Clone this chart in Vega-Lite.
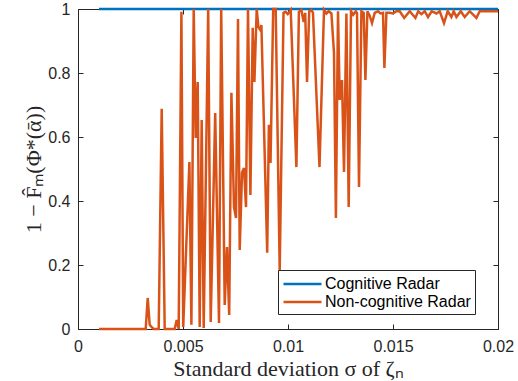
{
  "$schema": "https://vega.github.io/schema/vega-lite/v6.json",
  "width": 420,
  "height": 320,
  "autosize": {"type": "none"},
  "padding": {"left": 78, "top": 9, "right": 20, "bottom": 52},
  "background": "white",
  "config": {
    "view": {"stroke": "#262626", "strokeWidth": 1},
    "axis": {
      "domainColor": "#262626",
      "domainWidth": 1,
      "tickColor": "#262626",
      "tickWidth": 1,
      "tickSize": -5,
      "labelFlush": false,
      "labelColor": "#262626",
      "labelFont": "Liberation Sans",
      "labelFontSize": 16,
      "titleColor": "#262626",
      "titleFont": "Liberation Serif",
      "titleFontWeight": "normal",
      "titleFontSize": 22,
      "grid": false
    },
    "legend": {
      "orient": "none",
      "legendX": 200,
      "legendY": 261,
      "padding": 4,
      "strokeColor": "#262626",
      "fillColor": "white",
      "symbolType": "M-1,0H3.47",
      "symbolSize": 289,
      "symbolStrokeWidth": 2.5,
      "labelOffset": 23,
      "labelFont": "Liberation Sans",
      "labelFontSize": 16,
      "labelColor": "#000000",
      "labelExpr": "datum.label + '       '",
      "rowPadding": 0,
      "title": null
    }
  },
  "datasets": {
    "cog": [
      {"sigma": 0.001, "pfa": 1, "series": "Cognitive Radar"},
      {"sigma": 0.02, "pfa": 1, "series": "Cognitive Radar"}
    ],
    "non": [
      {"sigma": 0.001, "pfa": 0, "series": "Non-cognitive Radar"},
      {"sigma": 0.003224, "pfa": 0, "series": "Non-cognitive Radar"},
      {"sigma": 0.003319, "pfa": 0.097, "series": "Non-cognitive Radar"},
      {"sigma": 0.003414, "pfa": 0.013, "series": "Non-cognitive Radar"},
      {"sigma": 0.00351, "pfa": 0.006, "series": "Non-cognitive Radar"},
      {"sigma": 0.003605, "pfa": 0, "series": "Non-cognitive Radar"},
      {"sigma": 0.003843, "pfa": 0, "series": "Non-cognitive Radar"},
      {"sigma": 0.003986, "pfa": 0.688, "series": "Non-cognitive Radar"},
      {"sigma": 0.004129, "pfa": 0, "series": "Non-cognitive Radar"},
      {"sigma": 0.004605, "pfa": 0, "series": "Non-cognitive Radar"},
      {"sigma": 0.0047, "pfa": 0.028, "series": "Non-cognitive Radar"},
      {"sigma": 0.004795, "pfa": 0, "series": "Non-cognitive Radar"},
      {"sigma": 0.004924, "pfa": 0.991, "series": "Non-cognitive Radar"},
      {"sigma": 0.00501, "pfa": 0.006, "series": "Non-cognitive Radar"},
      {"sigma": 0.005305, "pfa": 0.522, "series": "Non-cognitive Radar"},
      {"sigma": 0.0054, "pfa": 0.013, "series": "Non-cognitive Radar"},
      {"sigma": 0.00551, "pfa": 1, "series": "Non-cognitive Radar"},
      {"sigma": 0.005605, "pfa": 0.597, "series": "Non-cognitive Radar"},
      {"sigma": 0.0057, "pfa": 0.772, "series": "Non-cognitive Radar"},
      {"sigma": 0.005795, "pfa": 0.006, "series": "Non-cognitive Radar"},
      {"sigma": 0.00589, "pfa": 0.653, "series": "Non-cognitive Radar"},
      {"sigma": 0.005986, "pfa": 0.003, "series": "Non-cognitive Radar"},
      {"sigma": 0.0062, "pfa": 1, "series": "Non-cognitive Radar"},
      {"sigma": 0.006319, "pfa": 0.022, "series": "Non-cognitive Radar"},
      {"sigma": 0.006533, "pfa": 0.675, "series": "Non-cognitive Radar"},
      {"sigma": 0.006714, "pfa": 0.019, "series": "Non-cognitive Radar"},
      {"sigma": 0.006819, "pfa": 1, "series": "Non-cognitive Radar"},
      {"sigma": 0.006986, "pfa": 0.075, "series": "Non-cognitive Radar"},
      {"sigma": 0.007095, "pfa": 0.256, "series": "Non-cognitive Radar"},
      {"sigma": 0.0072, "pfa": 0.044, "series": "Non-cognitive Radar"},
      {"sigma": 0.007305, "pfa": 0.738, "series": "Non-cognitive Radar"},
      {"sigma": 0.007429, "pfa": 0.381, "series": "Non-cognitive Radar"},
      {"sigma": 0.007524, "pfa": 0.347, "series": "Non-cognitive Radar"},
      {"sigma": 0.007619, "pfa": 0.969, "series": "Non-cognitive Radar"},
      {"sigma": 0.0077, "pfa": 0.247, "series": "Non-cognitive Radar"},
      {"sigma": 0.00781, "pfa": 0.488, "series": "Non-cognitive Radar"},
      {"sigma": 0.007905, "pfa": 0.503, "series": "Non-cognitive Radar"},
      {"sigma": 0.008, "pfa": 0.381, "series": "Non-cognitive Radar"},
      {"sigma": 0.008095, "pfa": 1, "series": "Non-cognitive Radar"},
      {"sigma": 0.00821, "pfa": 0.419, "series": "Non-cognitive Radar"},
      {"sigma": 0.008319, "pfa": 0.941, "series": "Non-cognitive Radar"},
      {"sigma": 0.0084, "pfa": 0.772, "series": "Non-cognitive Radar"},
      {"sigma": 0.00851, "pfa": 1, "series": "Non-cognitive Radar"},
      {"sigma": 0.00859, "pfa": 0.944, "series": "Non-cognitive Radar"},
      {"sigma": 0.008686, "pfa": 0.934, "series": "Non-cognitive Radar"},
      {"sigma": 0.008733, "pfa": 0.95, "series": "Non-cognitive Radar"},
      {"sigma": 0.00901, "pfa": 0.238, "series": "Non-cognitive Radar"},
      {"sigma": 0.00909, "pfa": 0.638, "series": "Non-cognitive Radar"},
      {"sigma": 0.009167, "pfa": 0.519, "series": "Non-cognitive Radar"},
      {"sigma": 0.009295, "pfa": 1, "series": "Non-cognitive Radar"},
      {"sigma": 0.009414, "pfa": 1, "series": "Non-cognitive Radar"},
      {"sigma": 0.009605, "pfa": 0.184, "series": "Non-cognitive Radar"},
      {"sigma": 0.009786, "pfa": 0.988, "series": "Non-cognitive Radar"},
      {"sigma": 0.00989, "pfa": 0.991, "series": "Non-cognitive Radar"},
      {"sigma": 0.009986, "pfa": 0.984, "series": "Non-cognitive Radar"},
      {"sigma": 0.010129, "pfa": 0.997, "series": "Non-cognitive Radar"},
      {"sigma": 0.0104, "pfa": 0.506, "series": "Non-cognitive Radar"},
      {"sigma": 0.010519, "pfa": 0.991, "series": "Non-cognitive Radar"},
      {"sigma": 0.010638, "pfa": 0.997, "series": "Non-cognitive Radar"},
      {"sigma": 0.010748, "pfa": 0.959, "series": "Non-cognitive Radar"},
      {"sigma": 0.010819, "pfa": 0.988, "series": "Non-cognitive Radar"},
      {"sigma": 0.010905, "pfa": 0.772, "series": "Non-cognitive Radar"},
      {"sigma": 0.01101, "pfa": 0.993, "series": "Non-cognitive Radar"},
      {"sigma": 0.011114, "pfa": 0.997, "series": "Non-cognitive Radar"},
      {"sigma": 0.01119, "pfa": 0.988, "series": "Non-cognitive Radar"},
      {"sigma": 0.0115, "pfa": 0.506, "series": "Non-cognitive Radar"},
      {"sigma": 0.011714, "pfa": 0.997, "series": "Non-cognitive Radar"},
      {"sigma": 0.011829, "pfa": 0.986, "series": "Non-cognitive Radar"},
      {"sigma": 0.011938, "pfa": 0.993, "series": "Non-cognitive Radar"},
      {"sigma": 0.012067, "pfa": 0.986, "series": "Non-cognitive Radar"},
      {"sigma": 0.01219, "pfa": 0.863, "series": "Non-cognitive Radar"},
      {"sigma": 0.012281, "pfa": 0.347, "series": "Non-cognitive Radar"},
      {"sigma": 0.012381, "pfa": 0.993, "series": "Non-cognitive Radar"},
      {"sigma": 0.012462, "pfa": 0.716, "series": "Non-cognitive Radar"},
      {"sigma": 0.012571, "pfa": 0.778, "series": "Non-cognitive Radar"},
      {"sigma": 0.012667, "pfa": 0.491, "series": "Non-cognitive Radar"},
      {"sigma": 0.012781, "pfa": 0.986, "series": "Non-cognitive Radar"},
      {"sigma": 0.01289, "pfa": 0.381, "series": "Non-cognitive Radar"},
      {"sigma": 0.013, "pfa": 0.993, "series": "Non-cognitive Radar"},
      {"sigma": 0.013105, "pfa": 0.982, "series": "Non-cognitive Radar"},
      {"sigma": 0.013224, "pfa": 0.993, "series": "Non-cognitive Radar"},
      {"sigma": 0.013286, "pfa": 0.988, "series": "Non-cognitive Radar"},
      {"sigma": 0.013381, "pfa": 0.444, "series": "Non-cognitive Radar"},
      {"sigma": 0.013495, "pfa": 0.993, "series": "Non-cognitive Radar"},
      {"sigma": 0.013605, "pfa": 0.988, "series": "Non-cognitive Radar"},
      {"sigma": 0.013686, "pfa": 0.778, "series": "Non-cognitive Radar"},
      {"sigma": 0.013781, "pfa": 0.993, "series": "Non-cognitive Radar"},
      {"sigma": 0.01389, "pfa": 0.979, "series": "Non-cognitive Radar"},
      {"sigma": 0.014, "pfa": 0.956, "series": "Non-cognitive Radar"},
      {"sigma": 0.014129, "pfa": 0.988, "series": "Non-cognitive Radar"},
      {"sigma": 0.014286, "pfa": 0.993, "series": "Non-cognitive Radar"},
      {"sigma": 0.0144, "pfa": 0.986, "series": "Non-cognitive Radar"},
      {"sigma": 0.014524, "pfa": 0.988, "series": "Non-cognitive Radar"},
      {"sigma": 0.01459, "pfa": 0.816, "series": "Non-cognitive Radar"},
      {"sigma": 0.014686, "pfa": 0.988, "series": "Non-cognitive Radar"},
      {"sigma": 0.014843, "pfa": 0.988, "series": "Non-cognitive Radar"},
      {"sigma": 0.015, "pfa": 0.986, "series": "Non-cognitive Radar"},
      {"sigma": 0.015162, "pfa": 0.993, "series": "Non-cognitive Radar"},
      {"sigma": 0.015319, "pfa": 0.993, "series": "Non-cognitive Radar"},
      {"sigma": 0.015533, "pfa": 0.972, "series": "Non-cognitive Radar"},
      {"sigma": 0.015795, "pfa": 0.993, "series": "Non-cognitive Radar"},
      {"sigma": 0.016067, "pfa": 0.972, "series": "Non-cognitive Radar"},
      {"sigma": 0.0162, "pfa": 0.993, "series": "Non-cognitive Radar"},
      {"sigma": 0.016352, "pfa": 0.984, "series": "Non-cognitive Radar"},
      {"sigma": 0.01651, "pfa": 0.993, "series": "Non-cognitive Radar"},
      {"sigma": 0.016667, "pfa": 0.975, "series": "Non-cognitive Radar"},
      {"sigma": 0.016843, "pfa": 0.993, "series": "Non-cognitive Radar"},
      {"sigma": 0.017067, "pfa": 0.986, "series": "Non-cognitive Radar"},
      {"sigma": 0.017224, "pfa": 0.993, "series": "Non-cognitive Radar"},
      {"sigma": 0.017429, "pfa": 0.956, "series": "Non-cognitive Radar"},
      {"sigma": 0.017605, "pfa": 0.993, "series": "Non-cognitive Radar"},
      {"sigma": 0.017781, "pfa": 0.975, "series": "Non-cognitive Radar"},
      {"sigma": 0.01789, "pfa": 0.993, "series": "Non-cognitive Radar"},
      {"sigma": 0.018019, "pfa": 0.975, "series": "Non-cognitive Radar"},
      {"sigma": 0.018224, "pfa": 0.993, "series": "Non-cognitive Radar"},
      {"sigma": 0.018414, "pfa": 0.975, "series": "Non-cognitive Radar"},
      {"sigma": 0.018652, "pfa": 0.993, "series": "Non-cognitive Radar"},
      {"sigma": 0.018971, "pfa": 0.972, "series": "Non-cognitive Radar"},
      {"sigma": 0.019129, "pfa": 0.993, "series": "Non-cognitive Radar"},
      {"sigma": 0.02, "pfa": 0.993, "series": "Non-cognitive Radar"}
    ]
  },
  "layer": [
    {
      "mark": {"type": "rule", "color": "#262626", "strokeWidth": 1},
      "encoding": {
        "x": {"datum": 0.02, "type": "quantitative", "axis": null},
        "y": {"datum": 0, "type": "quantitative", "axis": null},
        "y2": {"datum": 1}
      }
    },
    {
      "data": {"name": "cog"},
      "mark": {"type": "line", "strokeWidth": 2.5, "clip": false},
      "encoding": {
        "x": {
          "field": "sigma", "type": "quantitative",
          "scale": {"domain": [0, 0.02], "nice": false, "zero": false},
          "axis": {
            "orient": "bottom",
            "values": [0, 0.005, 0.01, 0.015, 0.02],
            "format": "~g",
            "labelPadding": 14,
            "title": "Standard deviation \u03c3 of \u03b6\u2099",
            "titlePadding": 4
          }
        },
        "y": {
          "field": "pfa", "type": "quantitative",
          "scale": {"domain": [0, 1], "nice": false},
          "axis": {
            "orient": "left",
            "values": [0, 0.2, 0.4, 0.6, 0.8, 1],
            "format": "~g",
            "labelPadding": 13,
            "title": "1 \u2212 F\u0302\u2098(\u03a6*(\u03b1\u0304))",
            "titlePadding": 2
          }
        },
        "color": {
          "field": "series", "type": "nominal",
          "scale": {"domain": ["Cognitive Radar", "Non-cognitive Radar"], "range": ["#0072BD", "#D95319"]}
        }
      }
    },
    {
      "data": {"name": "non"},
      "mark": {"type": "line", "strokeWidth": 2.5, "clip": false},
      "encoding": {
        "x": {
          "field": "sigma", "type": "quantitative",
          "axis": {"orient": "top", "values": [0, 0.005, 0.01, 0.015, 0.02], "labels": false, "title": null}
        },
        "y": {
          "field": "pfa", "type": "quantitative",
          "axis": {"orient": "right", "values": [0, 0.2, 0.4, 0.6, 0.8, 1], "labels": false, "title": null}
        },
        "color": {"field": "series", "type": "nominal"}
      }
    }
  ],
  "resolve": {"axis": {"x": "independent", "y": "independent"}}
}
